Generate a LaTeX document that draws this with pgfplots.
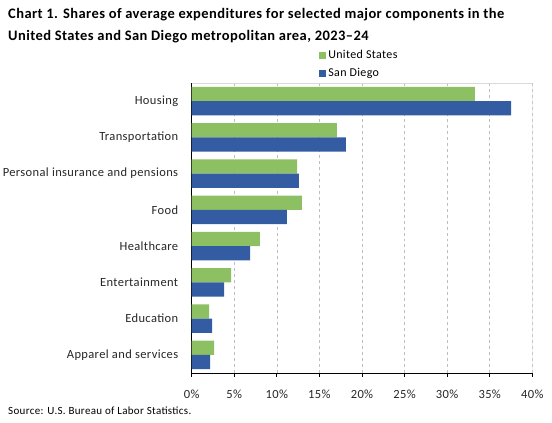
\documentclass[border=0pt]{standalone}
\usepackage{pgfplots}
\pgfplotsset{compat=1.18}
\usepackage{fontspec}
\setmainfont{Carlito}[LetterSpace=3]
\definecolor{usgreen}{RGB}{140,192,99}
\definecolor{sdblue}{RGB}{51,92,162}
\definecolor{gridgray}{RGB}{190,190,190}
\definecolor{framegray}{RGB}{217,217,217}
\begin{document}
\begin{tikzpicture}
\path[use as bounding box] (0,0) rectangle (552bp,423bp);
\node[anchor=west,font=\fontsize{14.5bp}{16bp}\selectfont\bfseries,inner sep=0pt] at (8bp,408bp) {Chart 1. Shares of average expenditures for selected major components in the};
\node[anchor=west,font=\fontsize{14.5bp}{16bp}\selectfont\bfseries,inner sep=0pt] at (8bp,386bp) {United States and San Diego metropolitan area, 2023--24};
\node[anchor=west,font=\fontsize{11bp}{12bp}\selectfont,inner sep=0pt] at (8bp,12bp) {Source: U.S. Bureau of Labor Statistics.};
\begin{axis}[
  at={(191.7bp,50bp)}, anchor=south west,
  scale only axis, width=340.6bp, height=290bp,
  xbar, bar width=14.3bp,
  xmin=0, xmax=40, ymin=-0.5, ymax=7.5,
  xtick={0,5,...,40},
  xticklabel={\pgfmathprintnumber{\tick}\%},
  /pgf/number format/assume math mode=true,
  ytick={0,1,2,3,4,5,6,7},
  yticklabels={Apparel and services,Education,Entertainment,Healthcare,Food,Personal insurance and pensions,Transportation,Housing},
  axis x line*=bottom, axis y line*=left,
  axis line style={black, line width=0.9pt},
  x axis line style={-}, y axis line style={-},
  tick align=outside, major tick length=4bp,
  xtick style={black, line width=0.8pt},
  ytick style={draw=none},
  xmajorgrids, major x grid style={gridgray, dashed, line width=0.7pt},
  tick label style={font=\fontsize{12.5bp}{13bp}\selectfont, text=black!85},
  xticklabel style={yshift=-9bp},
  yticklabel style={xshift=-6bp},
  legend style={at={(0.374,1.12)}, anchor=north west, draw=none, fill=none,
    font=\fontsize{12bp}{13bp}\selectfont, row sep=4bp, inner sep=0pt,
    legend cell align=left},
  legend image code/.code={\fill[#1] (0bp,-3.5bp) rectangle (7bp,3.5bp);},
]
\addplot[fill=usgreen, draw=none, bar shift=7.15bp] coordinates {
(2.62,0) (2.04,1) (4.62,2) (8.02,3) (12.95,4) (12.37,5) (17.06,6) (33.27,7)};
\addlegendentry{United States}
\addplot[fill=sdblue, draw=none, bar shift=-7.15bp] coordinates {
(2.15,0) (2.39,1) (3.80,2) (6.85,3) (11.19,4) (12.60,5) (18.12,6) (37.50,7)};
\addlegendentry{San Diego}
\draw[framegray, line width=0.8pt] (rel axis cs:0,1) -- (rel axis cs:1,1) -- (rel axis cs:1,0);
\end{axis}
\end{tikzpicture}
\end{document}
